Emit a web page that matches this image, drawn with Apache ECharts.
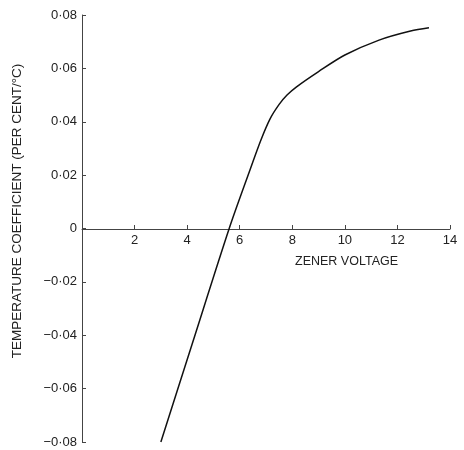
<!DOCTYPE html>
<html><head><meta charset="utf-8">
<script src="https://cdn.jsdelivr.net/npm/echarts@6/dist/echarts.min.js"></script>
<style>html,body{margin:0;padding:0;background:#fff}#c{width:464px;height:450px}</style>
</head><body><div id="c"></div>
<script>
const zenerVoltage = [3.0, 4.2, 5.6, 6.4, 6.8, 7.15, 7.5, 7.8, 8.15, 9.0, 10.0, 11.3, 12.5, 13.2];
const tempCoeff = [-0.08, -0.043, 0.0, 0.0222, 0.033, 0.041, 0.0465, 0.050, 0.053, 0.0588, 0.065, 0.0706, 0.074, 0.0752];
const xTicks = [2, 4, 6, 8, 10, 12, 14];
const yTicks = [-0.08, -0.06, -0.04, -0.02, 0, 0.02, 0.04, 0.06, 0.08];
const xTitle = 'ZENER VOLTAGE';
const yTitle = 'TEMPERATURE COEFFICIENT (PER CENT/°C)';

const fmtY = v => {
  if (Math.abs(v) < 1e-9) return '0';
  const s = Math.abs(v).toFixed(2).replace('.', '·');
  return (v < 0 ? '−' : '') + s;
};
const chart = echarts.init(document.getElementById('c'), null, {renderer: 'canvas'});
const font = '"Liberation Sans", "DejaVu Sans", sans-serif';
chart.setOption({
  animation: false,
  backgroundColor: '#fff',
  grid: {left: 82, right: 14, top: 15, bottom: 8},
  xAxis: {
    type: 'value', min: 0, max: 14, interval: 2,
    offset: -213,
    axisLine: {onZero: false, lineStyle: {color: '#444', width: 1}},
    axisTick: {show: true, inside: true, length: 4, lineStyle: {color: '#444'}},
    axisLabel: {color: '#222', fontSize: 13, fontFamily: font, margin: 5,
      formatter: v => xTicks.includes(v) ? String(v) : ''},
    splitLine: {show: false}
  },
  yAxis: {
    type: 'value', min: -0.08, max: 0.08, interval: 0.02,
    axisLine: {onZero: false, lineStyle: {color: '#444', width: 1}},
    axisTick: {show: true, inside: true, length: 4, lineStyle: {color: '#444'}},
    axisLabel: {color: '#222', fontSize: 13, fontFamily: font, margin: 5,
      formatter: v => yTicks.some(t => Math.abs(t - v) < 1e-9) ? fmtY(v) : ''},
    splitLine: {show: false}
  },
  graphic: [
    {type: 'text', left: 295, top: 255, style: {text: xTitle, fill: '#222', font: '12.5px ' + font}},
    {type: 'text', x: 17, y: 211, rotation: Math.PI / 2, originX: 0, originY: 0,
      style: {text: yTitle, fill: '#222', font: '13.5px ' + font, align: 'center', verticalAlign: 'middle'}}
  ],
  series: [{
    type: 'line', smooth: 0.3, symbol: 'none',
    lineStyle: {color: '#111', width: 1.5},
    data: zenerVoltage.map((x, i) => [x, tempCoeff[i]])
  }]
});
</script></body></html>
